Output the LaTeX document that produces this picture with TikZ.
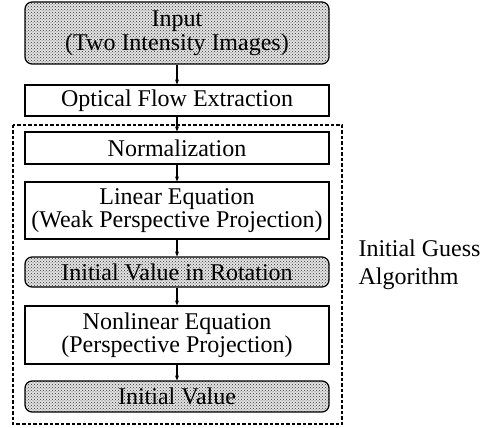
\documentclass[tikz,border=0pt]{standalone}
\usepackage{fontspec}
\setmainfont{Liberation Serif}
\usetikzlibrary{arrows.meta,patterns}
\begin{document}
\begin{tikzpicture}[x=1pt,y=-1pt,
  every node/.style={font=\fontsize{24}{23.5}\selectfont},
  plain/.style={draw,line width=1.2pt,minimum width=304pt,inner sep=0pt,align=center},
  shaded/.style={plain,rounded corners=7pt,preaction={fill=gray!22},pattern=crosshatch dots,pattern color=black!80},
  arr/.style={-{Stealth[length=5pt,width=4pt]},line width=1.2pt}]
\useasboundingbox (0,0) rectangle (488,428);
\node[shaded,minimum height=62pt] (in) at (177,33) {Input\\(Two Intensity Images)};
\node[plain,minimum height=31pt] (of) at (177,100.5) {Optical Flow Extraction};
\node[plain,minimum height=32pt] (no) at (177,148) {Normalization};
\node[plain,minimum height=57pt] (le) at (177,210.5) {Linear Equation\\(Weak Perspective Projection)};
\node[shaded,minimum height=30pt] (ir) at (177,272) {Initial Value in Rotation};
\node[plain,minimum height=58pt] (ne) at (177,335) {Nonlinear Equation\\(Perspective Projection)};
\node[shaded,minimum height=31pt] (iv) at (177,396.5) {Initial Value};
\draw[dash pattern=on 3.5pt off 2pt,line width=1.4pt] (13,125) rectangle (342,424);
\node[anchor=west,align=left,font=\fontsize{24}{28}\selectfont] (lab) at (355,265) {Initial Guess\\Algorithm};
\draw[arr] (in) -- (of);
\draw[arr] (of) -- (no);
\draw[arr] (no) -- (le);
\draw[arr] (le) -- (ir);
\draw[arr] (ir) -- (ne);
\draw[arr] (ne) -- (iv);
\end{tikzpicture}
\end{document}
